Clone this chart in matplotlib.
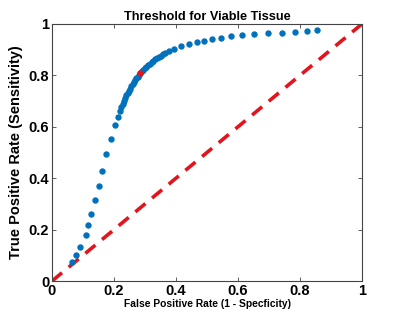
import numpy as np
import matplotlib.pyplot as plt

# ROC points
fpr = [0.063, 0.076, 0.090, 0.109, 0.117, 0.127, 0.138, 0.150, 0.162, 0.175,
       0.189, 0.203, 0.213, 0.219, 0.224, 0.228, 0.232, 0.236, 0.240, 0.244,
       0.248, 0.252, 0.256, 0.260, 0.264, 0.268, 0.272, 0.276, 0.280, 0.284,
       0.289, 0.294, 0.299, 0.304, 0.309, 0.315, 0.321, 0.327, 0.333, 0.339,
       0.345, 0.352, 0.359, 0.366, 0.376, 0.394, 0.416, 0.441, 0.467, 0.491,
       0.516, 0.546, 0.576, 0.613, 0.652, 0.696, 0.742, 0.784, 0.823, 0.854]
tpr = [0.073, 0.100, 0.131, 0.178, 0.217, 0.261, 0.315, 0.370, 0.428, 0.493,
       0.551, 0.608, 0.637, 0.660, 0.676, 0.690, 0.702, 0.712, 0.722, 0.731,
       0.740, 0.748, 0.757, 0.765, 0.773, 0.781, 0.788, 0.795, 0.802, 0.808,
       0.815, 0.822, 0.828, 0.834, 0.840, 0.846, 0.852, 0.857, 0.862, 0.867,
       0.872, 0.877, 0.882, 0.887, 0.893, 0.903, 0.913, 0.923, 0.930, 0.935,
       0.942, 0.947, 0.952, 0.958, 0.960, 0.964, 0.966, 0.970, 0.973, 0.977]
opt_fpr, opt_tpr = 0.284, 0.808
ticks = [0, 0.2, 0.4, 0.6, 0.8, 1]
tick_labels = ["0", "0.2", "0.4", "0.6", "0.8", "1"]

plt.rcParams['font.family'] = ['Liberation Sans', 'DejaVu Sans']
plt.rcParams['font.weight'] = 'bold'

fig = plt.figure(figsize=(4.0, 3.19), dpi=100)
ax = fig.add_axes([0.13, 0.119, 0.775, 0.806])

ax.plot([0, 1], [0, 1], '--', color='#e3141d', lw=2.6, dashes=(3.6, 2.4), zorder=1)
ax.plot(fpr, tpr, 'o', color='#0072BD', ms=4.6, mec='none', zorder=2)
ax.plot(opt_fpr, opt_tpr, 'o', color='#e3141d', ms=4.6, mec='none', zorder=3)

ax.set_xlim(0, 1)
ax.set_ylim(0, 1)
ax.set_xticks(ticks)
ax.set_xticklabels(tick_labels)
ax.set_yticks(ticks)
ax.set_yticklabels(tick_labels)
ax.tick_params(direction='in', length=3, width=0.6, color='#444444',
               top=True, right=True, labelsize=10.5, pad=2)
for s in ax.spines.values():
    s.set_color('#444444')
    s.set_linewidth(0.8)

ax.set_title("Threshold for Viable Tissue", fontsize=9.2, fontweight='bold', pad=3)
ax.set_xlabel("False Positive Rate (1 - Specficity)", fontsize=7.4, fontweight='bold', labelpad=1)
ax.set_ylabel("True Positive Rate (Sensitivity)", fontsize=10.5, fontweight='bold', labelpad=4)

fig.savefig("out.png", dpi=100)
